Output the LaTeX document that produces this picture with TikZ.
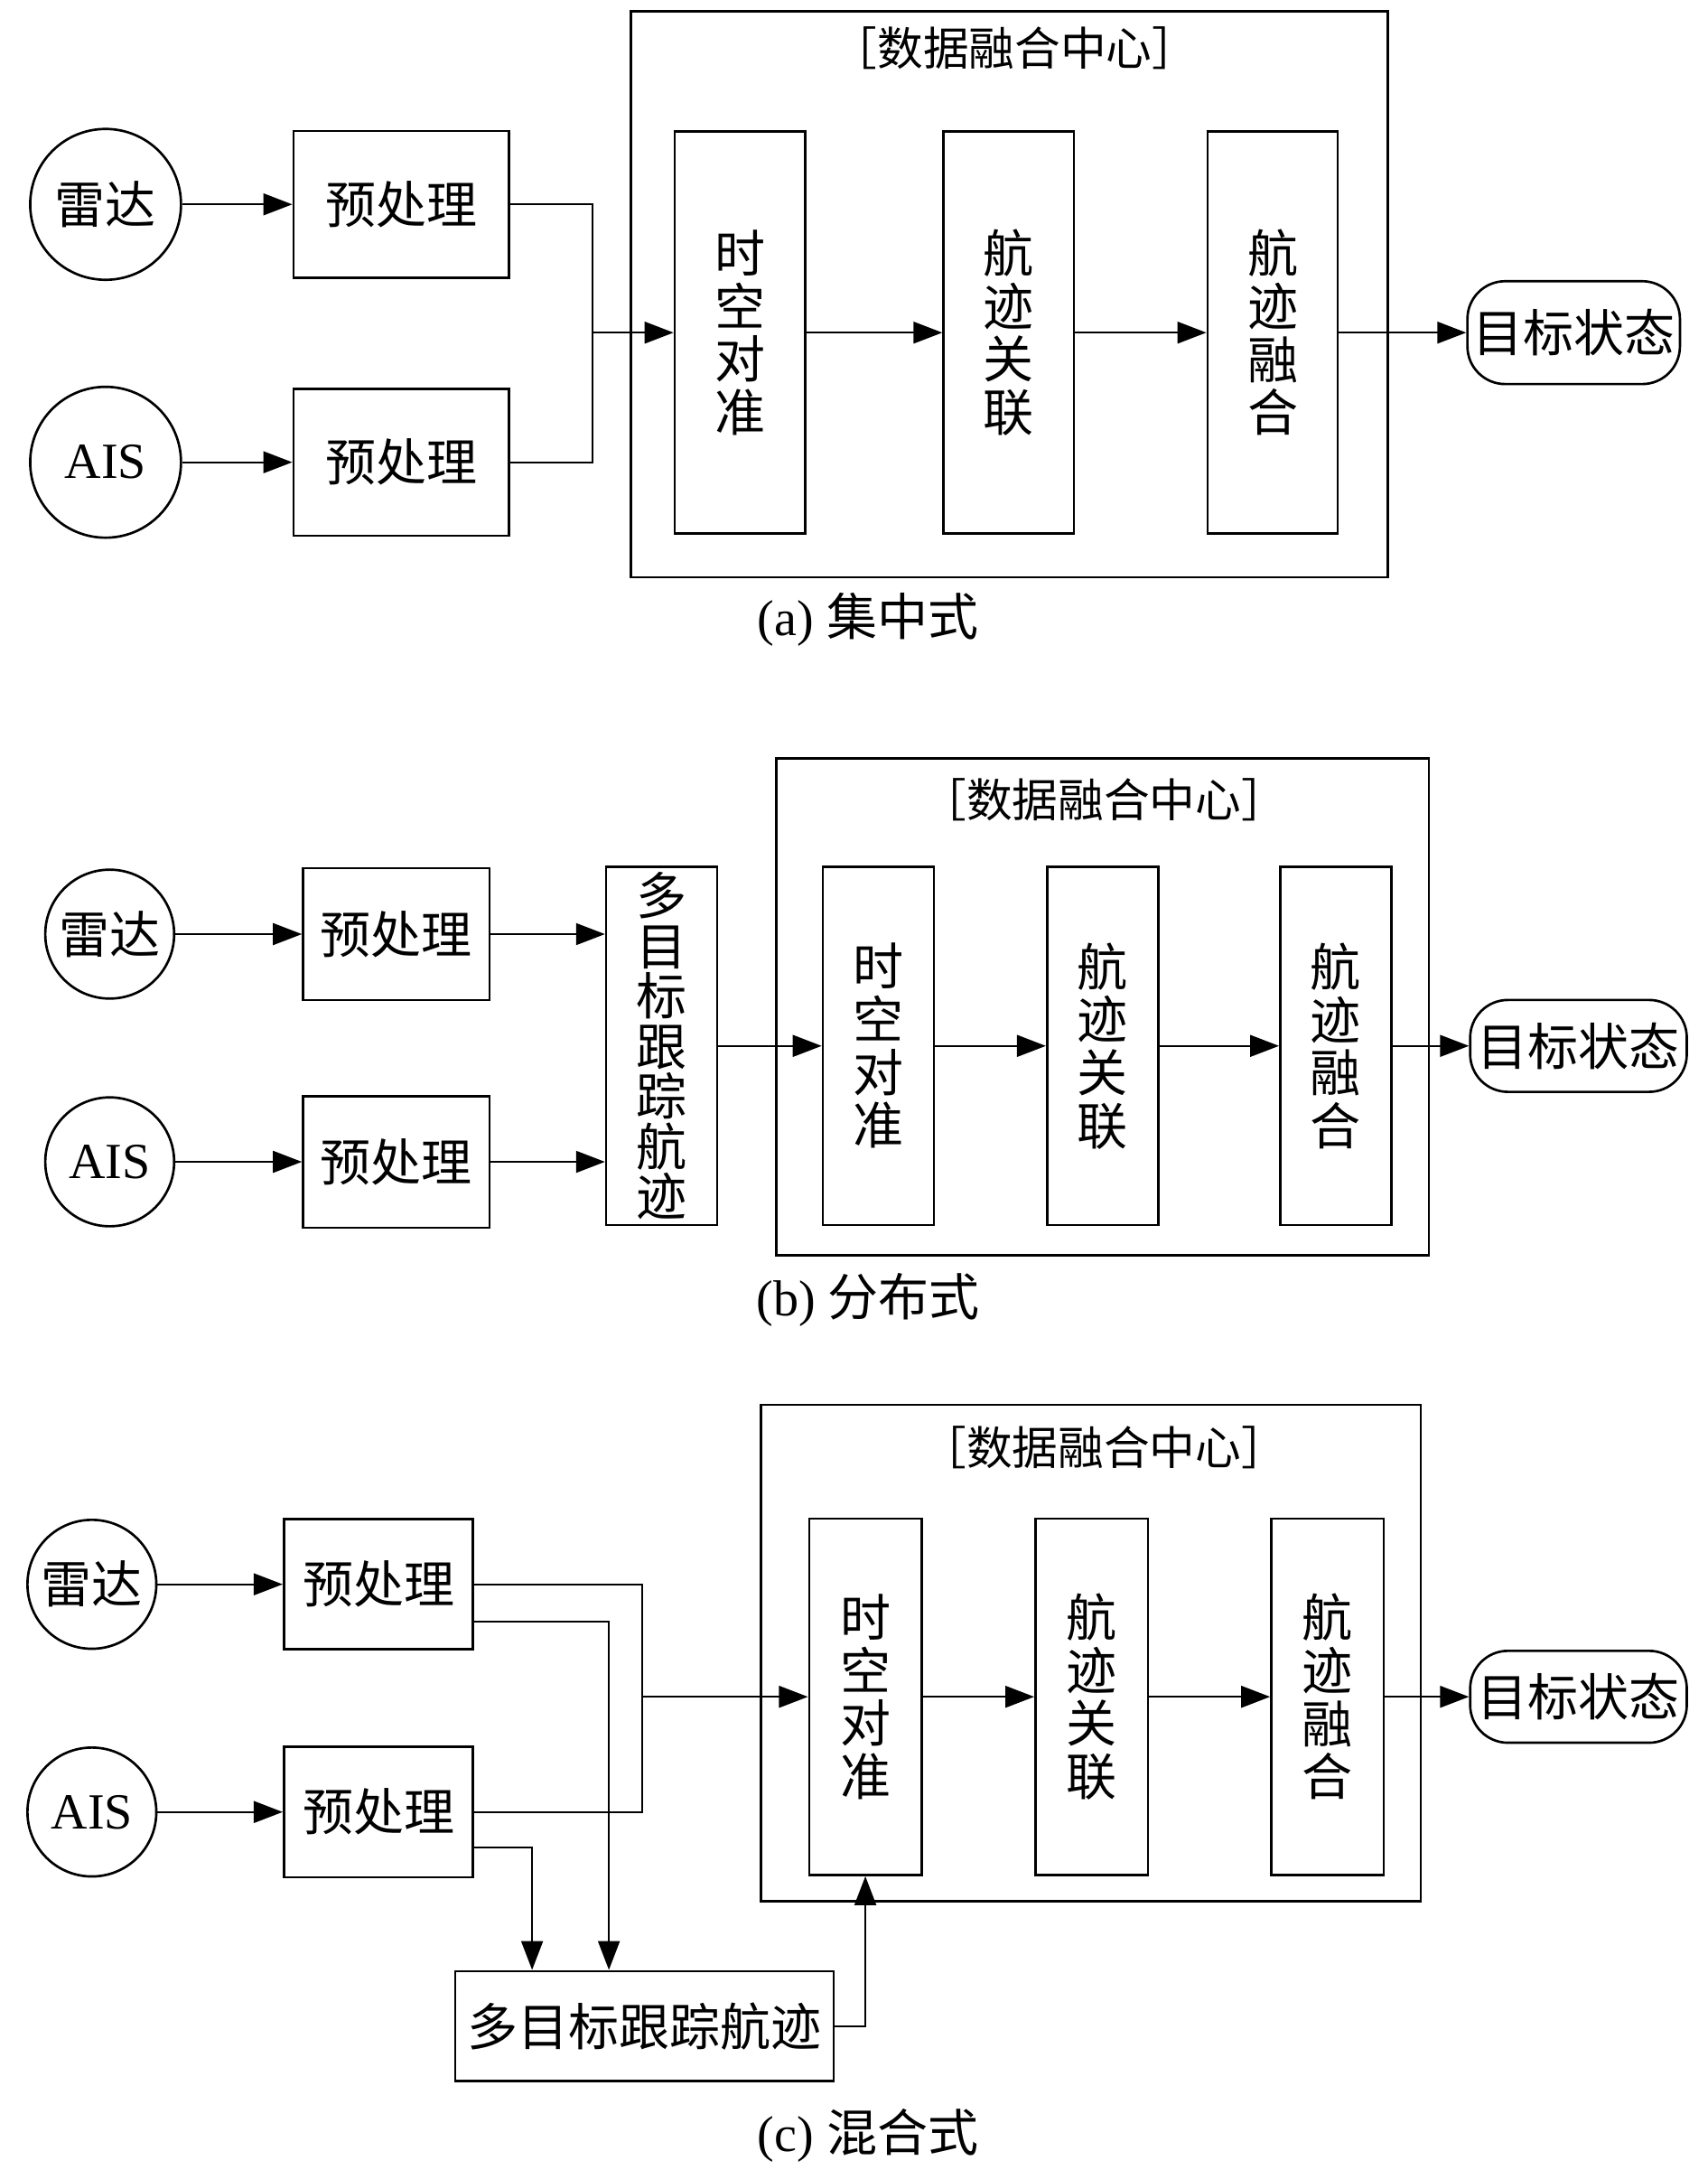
\documentclass[tikz,border=0pt]{standalone}
\usepackage{fontspec}
\setmainfont{Liberation Serif}
\newfontfamily\cjk{Noto Sans CJK SC}
\usepackage{tikz}
\usetikzlibrary{arrows.meta}

\tikzset{
  sensor/.style={draw,circle,line width=1pt,inner sep=0pt,font=\cjk\fontsize{21}{22}\selectfont},
  prebox/.style={draw,line width=1pt,font=\cjk\fontsize{21}{22}\selectfont},
  stagebox/.style={draw,line width=1pt,inner sep=1pt,align=center,font=\cjk\fontsize{21}{22}\selectfont},
  centerbox/.style={draw,line width=1pt},
  statebox/.style={draw,line width=1pt,inner sep=1pt,rounded corners=0.55cm,font=\cjk\fontsize{21}{22}\selectfont},
  titletext/.style={font=\cjk\fontsize{19}{20}\selectfont},
  captext/.style={font=\fontsize{21}{22}\selectfont},
  conn/.style={line width=0.8pt},
  arr/.style={-{Triangle[length=12pt,width=9pt]}}
}

\begin{document}
\begin{tikzpicture}[x=0.02cm,y=-0.02cm]
  \useasboundingbox (0,0) rectangle (1245,1582);

  \node[sensor,minimum size=2.2cm] (radarA) at (77,149) {雷达};
  \node[sensor,minimum size=2.2cm,font=\fontsize{21}{22}\selectfont] (aisA) at (77,337) {AIS};
  \node[prebox,minimum width=3.14cm,minimum height=2.14cm] (preA1) at (292.5,149) {预处理};
  \node[prebox,minimum width=3.14cm,minimum height=2.14cm] (preA2) at (292.5,337) {预处理};
  \node[centerbox,minimum width=11.04cm,minimum height=8.26cm] (centerA) at (736,214.5) {};
  \node[titletext] (titleA) at (740,35) {［数据融合中心］};
  \node[stagebox,minimum width=1.9cm,minimum height=5.86cm] (alignA) at (539.5,242.5) {时\\空\\对\\准};
  \node[stagebox,minimum width=1.9cm,minimum height=5.86cm] (assocA) at (735.5,242.5) {航\\迹\\关\\联};
  \node[stagebox,minimum width=1.9cm,minimum height=5.86cm] (fuseA) at (928,242.5) {航\\迹\\融\\合};
  \node[statebox,minimum width=3.1cm,minimum height=1.5cm] (stateA) at (1147.5,242.5) {目标状态};
  \node[captext] (capA) at (633,452) {(a) {\cjk 集中式}};
  \coordinate (jA) at (432,242.5);
  \draw[conn,arr] (radarA) -- (preA1);
  \draw[conn,arr] (aisA) -- (preA2);
  \draw[conn] (preA1.east) -| (jA) |- (preA2.east);
  \draw[conn,arr] (jA) -- (alignA);
  \draw[conn,arr] (alignA) -- (assocA);
  \draw[conn,arr] (assocA) -- (fuseA);
  \draw[conn,arr] (fuseA) -- (stateA);

  \node[sensor,minimum size=1.88cm] (radarB) at (80,681) {雷达};
  \node[sensor,minimum size=1.88cm,font=\fontsize{21}{22}\selectfont] (aisB) at (80,847) {AIS};
  \node[prebox,minimum width=2.72cm,minimum height=1.92cm] (preB1) at (289,681) {预处理};
  \node[prebox,minimum width=2.72cm,minimum height=1.92cm] (preB2) at (289,847) {预处理};
  \node[stagebox,minimum width=1.62cm,minimum height=5.22cm,font=\cjk\fontsize{21}{20.8}\selectfont] (mttB) at (482.5,762.5) {多\\目\\标\\跟\\踪\\航\\迹};
  \node[centerbox,minimum width=9.52cm,minimum height=7.24cm] (centerB) at (804,734) {};
  \node[titletext] (titleB) at (805,583) {［数据融合中心］};
  \node[stagebox,minimum width=1.62cm,minimum height=5.22cm] (alignB) at (640.5,762.5) {时\\空\\对\\准};
  \node[stagebox,minimum width=1.62cm,minimum height=5.22cm] (assocB) at (804,762.5) {航\\迹\\关\\联};
  \node[stagebox,minimum width=1.62cm,minimum height=5.22cm] (fuseB) at (974,762.5) {航\\迹\\融\\合};
  \node[statebox,minimum width=3.16cm,minimum height=1.34cm] (stateB) at (1151,762.5) {目标状态};
  \node[captext] (capB) at (633,948) {(b) {\cjk 分布式}};
  \draw[conn,arr] (radarB) -- (preB1);
  \draw[conn,arr] (aisB) -- (preB2);
  \draw[conn,arr] (preB1) -- (preB1 -| mttB.west);
  \draw[conn,arr] (preB2) -- (preB2 -| mttB.west);
  \draw[conn,arr] (mttB) -- (alignB);
  \draw[conn,arr] (alignB) -- (assocB);
  \draw[conn,arr] (assocB) -- (fuseB);
  \draw[conn,arr] (fuseB) -- (stateB);

  \node[sensor,minimum size=1.88cm] (radarC) at (67,1155) {雷达};
  \node[sensor,minimum size=1.88cm,font=\fontsize{21}{22}\selectfont] (aisC) at (67,1321) {AIS};
  \node[prebox,minimum width=2.76cm,minimum height=1.9cm] (preC1) at (276,1155) {预处理};
  \node[prebox,minimum width=2.76cm,minimum height=1.9cm] (preC2) at (276,1321) {预处理};
  \node[centerbox,minimum width=9.62cm,minimum height=7.24cm] (centerC) at (795.5,1205) {};
  \node[titletext] (titleC) at (805,1055) {［数据融合中心］};
  \node[stagebox,minimum width=1.64cm,minimum height=5.2cm] (alignC) at (631,1237) {时\\空\\对\\准};
  \node[stagebox,minimum width=1.64cm,minimum height=5.2cm] (assocC) at (796,1237) {航\\迹\\关\\联};
  \node[stagebox,minimum width=1.64cm,minimum height=5.2cm] (fuseC) at (968,1237) {航\\迹\\融\\合};
  \node[statebox,minimum width=3.16cm,minimum height=1.34cm] (stateC) at (1151,1237) {目标状态};
  \node[prebox,minimum width=5.52cm,minimum height=1.6cm] (mttC) at (470,1477) {多目标跟踪航迹};
  \node[captext] (capC) at (633,1557) {(c) {\cjk 混合式}};
  \coordinate (jC) at (468,1237);
  \coordinate (kC1) at (444,1182);
  \coordinate (kC2) at (388,1347);
  \draw[conn,arr] (radarC) -- (preC1);
  \draw[conn,arr] (aisC) -- (preC2);
  \draw[conn] (preC1.east) -| (jC) |- (preC2.east);
  \draw[conn,arr] (jC) -- (alignC);
  \draw[conn,arr] (preC1.east |- kC1) -- (kC1) -- (kC1 |- mttC.north);
  \draw[conn,arr] (preC2.east |- kC2) -- (kC2) -- (kC2 |- mttC.north);
  \draw[conn,arr] (mttC.east) -| (alignC.south);
  \draw[conn,arr] (alignC) -- (assocC);
  \draw[conn,arr] (assocC) -- (fuseC);
  \draw[conn,arr] (fuseC) -- (stateC);
\end{tikzpicture}
\end{document}
